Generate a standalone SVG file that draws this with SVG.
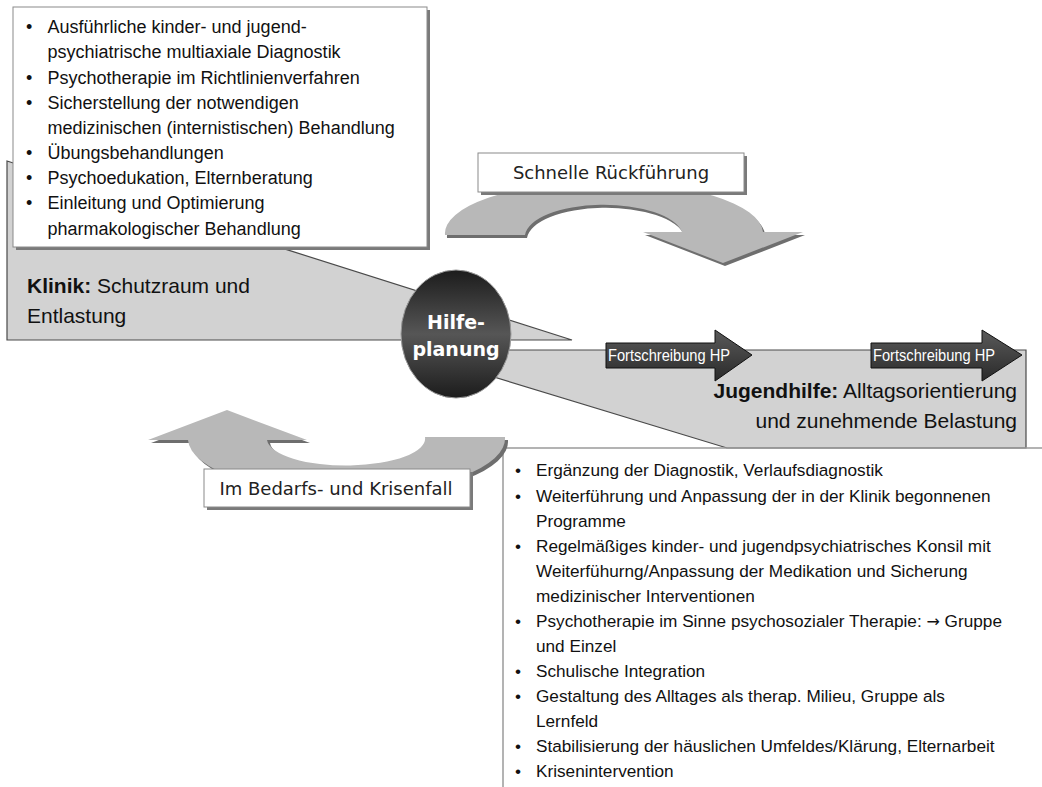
<svg xmlns="http://www.w3.org/2000/svg" width="1042" height="787" viewBox="0 0 1042 787">
<defs>
<linearGradient id="ball" x1="0" y1="0" x2="0" y2="1">
<stop offset="0" stop-color="#1c1c1c"/>
<stop offset="0.5" stop-color="#565656"/>
<stop offset="1" stop-color="#1c1c1c"/>
</linearGradient>
<linearGradient id="darr" x1="0" y1="0" x2="0" y2="1">
<stop offset="0" stop-color="#5a5a5a"/>
<stop offset="1" stop-color="#2a2a2a"/>
</linearGradient>
</defs>
<style>
.t{font-family:"Liberation Sans",Arial,sans-serif;fill:#111;}
.b18{font-size:18px;}
.b17{font-size:17.2px;}
.big{font-size:21px;}
.lab{font-family:"DejaVu Sans",Verdana,sans-serif;font-size:18px;fill:#222;}
.wedge{fill:#d2d2d2;stroke:#4a4a4a;stroke-width:1.2;}
.box{fill:#fff;stroke:#8a8a8a;stroke-width:1;}
.shadow{fill:#7a7a7a;}
.carrow{fill:#b8b8b8;}
.cshadow{fill:#6e6e6e;}
.fa{fill:url(#darr);stroke:#111;stroke-width:1;}
.fat{font-family:"Liberation Sans",Arial,sans-serif;font-size:16px;fill:#fff;}
</style>
<rect width="1042" height="787" fill="#fff"/>

<g id="klinik">
<polygon class="wedge" points="7,161 572,340 7,340"/>
<text class="t big" x="27" y="293"><tspan font-weight="bold">Klinik:</tspan> Schutzraum und</text>
<text class="t big" x="27" y="323">Entlastung</text>
</g>

<g id="jugendhilfe">
<polygon class="wedge" points="405,350 1026,350 1026,448 727,448"/>
<text class="t big" x="1017" y="398" text-anchor="end"><tspan font-weight="bold">Jugendhilfe:</tspan> Alltagsorientierung</text>
<text class="t big" x="1017" y="428" text-anchor="end">und zunehmende Belastung</text>
</g>

<g id="klinik-massnahmen">
<rect class="shadow" x="16" y="10" width="414" height="240"/>
<rect class="box" x="13" y="7" width="414" height="240"/>
<g class="t b18">
<text x="26" y="33">•</text><text x="47.5" y="33">Ausführliche kinder- und jugend-</text>
<text x="47.5" y="58.3">psychiatrische multiaxiale Diagnostik</text>
<text x="26" y="83.5">•</text><text x="47.5" y="83.5">Psychotherapie im Richtlinienverfahren</text>
<text x="26" y="108.8">•</text><text x="47.5" y="108.8">Sicherstellung der notwendigen</text>
<text x="47.5" y="134">medizinischen (internistischen) Behandlung</text>
<text x="26" y="159">•</text><text x="47.5" y="159">Übungsbehandlungen</text>
<text x="26" y="184.2">•</text><text x="47.5" y="184.2">Psychoedukation, Elternberatung</text>
<text x="26" y="209.4">•</text><text x="47.5" y="209.4">Einleitung und Optimierung</text>
<text x="47.5" y="234.5">pharmakologischer Behandlung</text>
</g>
</g>

<g id="jugendhilfe-massnahmen">
<path d="M503,787 L503,448 L1042,448" fill="none" stroke="#9a9a9a" stroke-width="1.5"/>
<g class="t b17">
<text x="515" y="476">•</text><text x="536" y="476">Ergänzung der Diagnostik, Verlaufsdiagnostik</text>
<text x="515" y="501.5">•</text><text x="536" y="501.5">Weiterführung und Anpassung der in der Klinik begonnenen</text>
<text x="536" y="526.5">Programme</text>
<text x="515" y="551.5">•</text><text x="536" y="551.5">Regelmäßiges kinder- und jugendpsychiatrisches Konsil mit</text>
<text x="536" y="576.5">Weiterfühurng/Anpassung der Medikation und Sicherung</text>
<text x="536" y="601.5">medizinischer Interventionen</text>
<text x="515" y="626.5">•</text><text x="536" y="626.5">Psychotherapie im Sinne psychosozialer Therapie: <tspan font-family="'DejaVu Sans',sans-serif" font-size="16">→</tspan> Gruppe</text>
<text x="536" y="651.5">und Einzel</text>
<text x="515" y="676.5">•</text><text x="536" y="676.5">Schulische Integration</text>
<text x="515" y="701.5">•</text><text x="536" y="701.5">Gestaltung des Alltages als therap. Milieu, Gruppe als</text>
<text x="536" y="726.5">Lernfeld</text>
<text x="515" y="751.5">•</text><text x="536" y="751.5">Stabilisierung der häuslichen Umfeldes/Klärung, Elternarbeit</text>
<text x="515" y="776.5">•</text><text x="536" y="776.5">Krisenintervention</text>
</g>
</g>

<g id="connectors">
<g id="schnelle-rueckfuehrung">
<path class="cshadow" transform="translate(2,3)" d="M445,235 A159,52 0 0 1 763,232 L803,232 L723,263 L643,232 L682,232 A79,32 0 0 0 525,235 Z"/>
<path class="carrow" d="M445,235 A159,52 0 0 1 763,232 L803,232 L723,263 L643,232 L682,232 A79,32 0 0 0 525,235 Z"/>
<rect class="shadow" x="481" y="156" width="266" height="39"/>
<rect class="box" x="478" y="153" width="266" height="39"/>
<text class="lab" x="611" y="179" text-anchor="middle">Schnelle Rückführung</text>
</g>
<g id="bedarfs-krisenfall">
<path class="cshadow" transform="translate(3,3)" d="M188,440 A158,55 0 0 0 505,437 L425,437 A79,27 0 0 1 267,440 L307,440 L227,410 L148,440 Z"/>
<path class="carrow" d="M188,440 A158,55 0 0 0 505,437 L425,437 A79,27 0 0 1 267,440 L307,440 L227,410 L148,440 Z"/>
<rect class="shadow" x="207" y="472" width="266" height="38"/>
<rect class="box" x="204" y="469" width="266" height="38"/>
<text class="lab" x="336" y="495" text-anchor="middle">Im Bedarfs- und Krisenfall</text>
</g>
<g id="fortschreibung-1">
<polygon class="fa" points="606,343 715,343 715,330 752,355 715,381 715,368 606,368"/>
<text class="fat" x="608" y="361" textLength="122" lengthAdjust="spacingAndGlyphs">Fortschreibung HP</text>
</g>
<g id="fortschreibung-2">
<polygon class="fa" points="871,343 982,343 982,330 1022,355 982,381 982,368 871,368"/>
<text class="fat" x="873" y="361" textLength="122" lengthAdjust="spacingAndGlyphs">Fortschreibung HP</text>
</g>
</g>

<g id="hilfeplanung">
<ellipse cx="456" cy="334" rx="55" ry="64" fill="url(#ball)" stroke="#9a9a9a" stroke-width="1"/>
<text x="456" y="329" text-anchor="middle" font-family="'DejaVu Sans',Verdana,sans-serif" font-weight="bold" font-size="19" fill="#fff">Hilfe-</text>
<text x="456" y="356" text-anchor="middle" font-family="'DejaVu Sans',Verdana,sans-serif" font-weight="bold" font-size="19" fill="#fff">planung</text>
</g>
</svg>
